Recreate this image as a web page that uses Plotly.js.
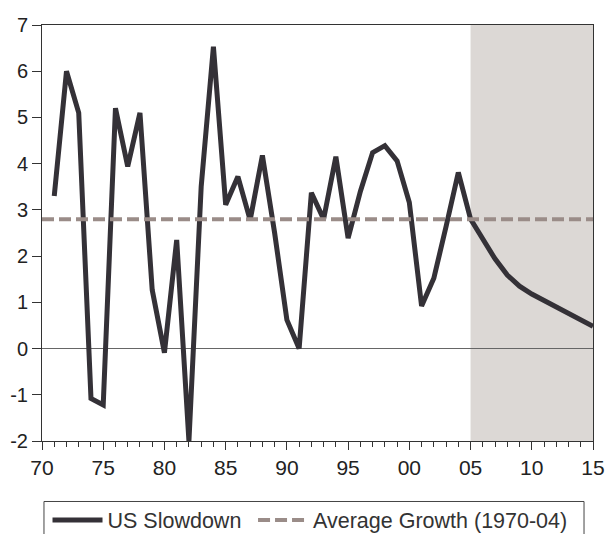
<!DOCTYPE html>
<html>
<head>
<meta charset="utf-8">
<script src="https://cdn.plot.ly/plotly-3.0.1.min.js"></script>
<style>html,body{margin:0;padding:0;background:#fff;}#chart{width:605px;height:534px;}</style>
</head>
<body>
<div id="chart"></div>
<script>
const years = [1971,1972,1973,1974,1975,1976,1977,1978,1979,1980,1981,1982,1983,1984,1985,1986,1987,1988,1989,1990,1991,1992,1993,1994,1995,1996,1997,1998,1999,2000,2001,2002,2003,2004,2005,2006,2007,2008,2009,2010,2011,2012,2013,2014,2015];
const usSlowdown = [3.3,6.0,5.1,-1.08,-1.22,5.2,3.94,5.1,1.27,-0.09,2.35,-2.0,3.5,6.53,3.11,3.72,2.78,4.18,2.5,0.62,0.0,3.37,2.8,4.15,2.39,3.4,4.24,4.39,4.06,3.16,0.92,1.52,2.64,3.81,2.8,2.35,1.94,1.59,1.35,1.18,1.04,0.9,0.77,0.64,0.48];
const avgYears = [1970,2015];
const avgGrowth = [2.8,2.8];
const forecastStart = 2005;
const forecastEnd = 2015;
const xTickVals = [1970,1975,1980,1985,1990,1995,2000,2005,2010,2015];
const xTickText = ["70","75","80","85","90","95","00","05","10","15"];
const yTickVals = [-2,-1,0,1,2,3,4,5,6,7];
const yTickText = ["-2","-1","0","1","2","3","4","5","6","7"];
const seriesNames = ["US Slowdown","Average Growth (1970-04)"];

const font = "Liberation Sans, Arial, sans-serif";
const traces = [
  {x: years, y: usSlowdown, type: 'scatter', mode: 'lines', name: seriesNames[0],
   line: {color: '#343137', width: 5}, legend: 'legend'},
  {x: avgYears, y: avgGrowth, type: 'scatter', mode: 'lines', name: seriesNames[1],
   line: {color: '#9a8c88', width: 4, dash: '12px,5px'}, legend: 'legend2'}
];
const legendBase = {orientation: 'h', y: -0.19, xanchor: 'left', yanchor: 'middle',
  font: {family: font, size: 21.5, color: '#333'}, bgcolor: 'rgba(0,0,0,0)', itemwidth: 50};
const layout = {
  width: 605, height: 534,
  margin: {l: 42, r: 12, t: 25, b: 93, autoexpand: false},
  paper_bgcolor: '#fff', plot_bgcolor: '#fff',
  font: {family: font, size: 20, color: '#222'},
  showlegend: true,
  legend: Object.assign({}, legendBase, {x: 0.01}),
  legend2: Object.assign({}, legendBase, {x: 0.383}),
  xaxis: {range: [1970, 2015], tickvals: xTickVals, ticktext: xTickText,
          ticks: 'outside', ticklen: 8, tickcolor: '#333', showgrid: false, zeroline: false,
          showline: true, linecolor: '#333', linewidth: 1, mirror: true,
          minor: {dtick: 1, tick0: 1970, ticks: 'outside', ticklen: 5, tickcolor: '#333', showgrid: false},
          tickfont: {size: 21, color: '#222'}},
  yaxis: {range: [-2, 7], tickvals: yTickVals, ticktext: yTickText, ticks: 'outside', ticklen: 9, tickcolor: '#333',
          showgrid: false, zeroline: true, zerolinecolor: '#666', zerolinewidth: 1,
          showline: true, linecolor: '#333', linewidth: 1, mirror: true,
          tickfont: {size: 20, color: '#222'}},
  shapes: [
    {type: 'rect', xref: 'x', yref: 'paper', x0: forecastStart, x1: forecastEnd, y0: 0, y1: 1,
     fillcolor: '#dcd8d5', line: {width: 0}, layer: 'below'},
    {type: 'rect', xref: 'paper', yref: 'paper', x0: 0.0036, x1: 0.9837, y0: -0.1454, y1: -0.26,
     fillcolor: 'rgba(0,0,0,0)', line: {color: '#444', width: 1}}
  ]
};
Plotly.newPlot('chart', traces, layout, {displayModeBar: false, staticPlot: true});
</script>
</body>
</html>
